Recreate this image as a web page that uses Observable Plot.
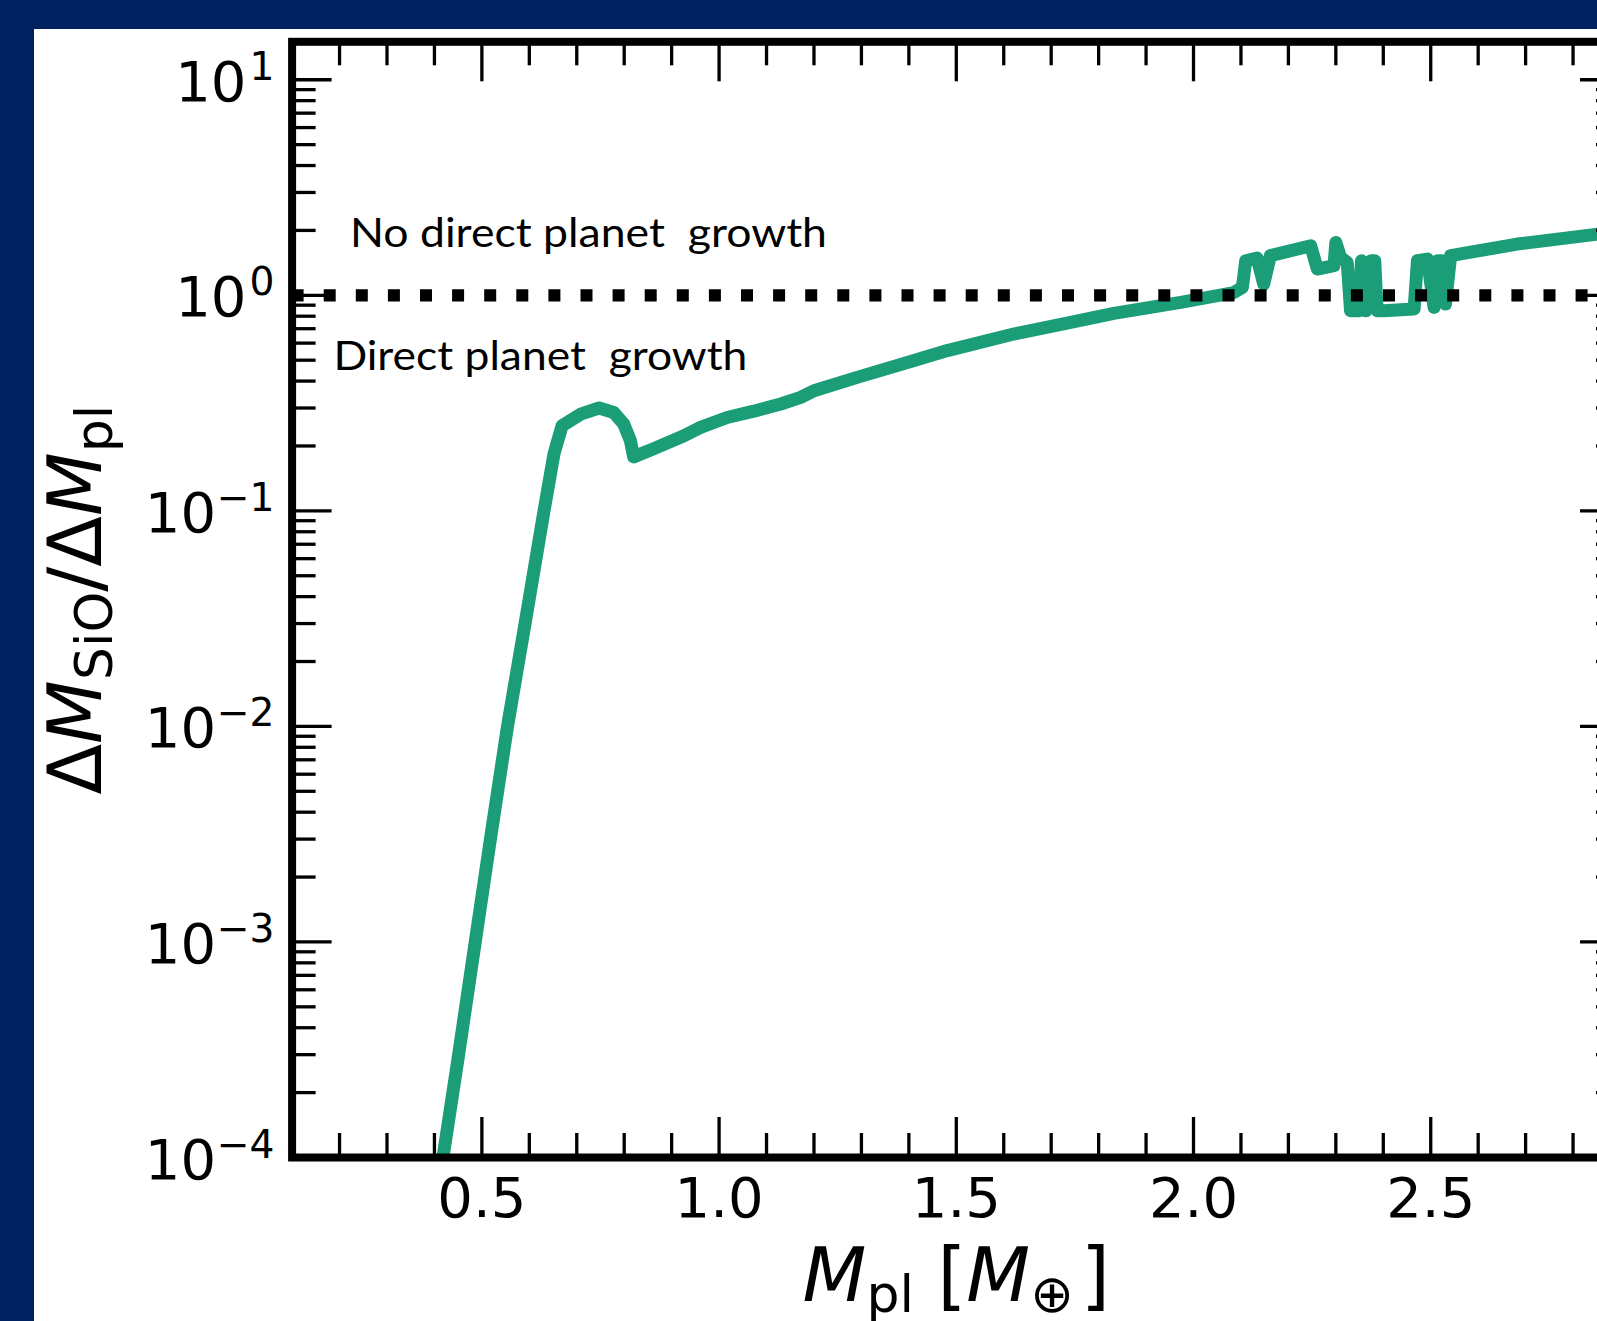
<!DOCTYPE html>
<html>
<head>
<meta charset="utf-8">
<script src="https://cdn.jsdelivr.net/npm/d3@7"></script>
<script src="https://cdn.jsdelivr.net/npm/@observablehq/plot@0.6"></script>
<style>
html, body { margin: 0; padding: 0; width: 1597px; height: 1321px; overflow: hidden; background: #002060; }
#panel { position: absolute; left: 34px; top: 29px; width: 1700px; height: 1400px; background: #ffffff; }
#chart { position: absolute; left: 0; top: 0; width: 1660px; height: 1321px; }
#chart svg { max-width: none !important; width: 1660px; height: 1321px; }
#chart svg text { white-space: pre; }
</style>
</head>
<body>
<div id="panel"></div>
<div id="chart"></div>
<script>
// ---- data ----
const massPl = [0.397, 0.418, 0.451, 0.486, 0.518, 0.554, 0.591, 0.631, 0.652, 0.669,
  0.708, 0.747, 0.778, 0.799, 0.813, 0.820, 0.862, 0.926, 0.961, 1.017, 1.073, 1.130, 1.172, 1.200, 1.291,
  1.411, 1.481, 1.621, 1.741, 1.832, 1.973, 2.085, 2.103, 2.110, 2.134, 2.148, 2.162, 2.247, 2.261, 2.296,
  2.300, 2.310, 2.324, 2.331, 2.349, 2.354, 2.363, 2.374, 2.382, 2.387, 2.401, 2.465, 2.472, 2.493, 2.507,
  2.514, 2.524, 2.531, 2.542, 2.682, 2.852, 2.900];
const ratio = [5.0e-5, 1.0e-4, 3.0e-4, 1.0e-3, 3.0e-3, 1.0e-2, 3.0e-2, 0.1, 0.184, 0.248,
  0.281, 0.300, 0.286, 0.253, 0.212, 0.178, 0.194, 0.223, 0.244, 0.271, 0.290, 0.313, 0.336, 0.361, 0.416,
  0.498, 0.554, 0.661, 0.748, 0.824, 0.927, 1.03, 1.088, 1.447, 1.489, 1.128, 1.527, 1.698, 1.324, 1.372,
  1.758, 1.499, 1.421, 0.848, 0.848, 1.447, 0.848, 1.447, 1.447, 0.848, 0.848, 0.864, 1.447, 1.472, 0.879,
  1.447, 1.447, 0.911, 1.527, 1.729, 1.923, 1.99];

const xMajorTicks = [0.5, 1.0, 1.5, 2.0, 2.5];
const xTickLabels = ["0.5", "1.0", "1.5", "2.0", "2.5"];
const xMinorTicks = [0.2, 0.3, 0.4, 0.6, 0.7, 0.8, 0.9, 1.1, 1.2, 1.3, 1.4, 1.6, 1.7, 1.8, 1.9,
  2.1, 2.2, 2.3, 2.4, 2.6, 2.7, 2.8];
const yMajorTicks = [1e-4, 1e-3, 1e-2, 1e-1, 1, 10];
const yTickExponents = ["−4", "−3", "−2", "−1", "0", "1"];
const yMinorTicks = [2e-4, 3e-4, 4e-4, 5e-4, 6e-4, 7e-4, 8e-4, 9e-4,
  2e-3, 3e-3, 4e-3, 5e-3, 6e-3, 7e-3, 8e-3, 9e-3,
  2e-2, 3e-2, 4e-2, 5e-2, 6e-2, 7e-2, 8e-2, 9e-2,
  0.2, 0.3, 0.4, 0.5, 0.6, 0.7, 0.8, 0.9,
  2, 3, 4, 5, 6, 7, 8, 9];
const thresholdValue = [1];
const annotationLabels = ["No direct planet  growth", "Direct planet  growth"];
const annotationX = [0.222, 0.187];
const annotationY = [1.68, 0.450];
const annotationWidths = [477, 414];
const xLabel = "Mpl [M⊕]";
const yLabel = "ΔMSiO/ΔMpl";

// ---- layout ----
const W = 1660, H = 1321, ML = 291.6, MR = 40, MT = 41.3, MB = 164;
const plotW = W - ML - MR, plotH = H - MT - MB;
const majorLen = 40, minorLen = 24, tickW = 3.3;

const curve = massPl.map((x, i) => ({x, y: ratio[i]}));
const posTicks = yMajorTicks.filter(v => v >= 1);
const negTicks = yMajorTicks.filter(v => v < 1);

const chart = Plot.plot({
  width: W, height: H,
  marginLeft: ML, marginRight: MR, marginTop: MT, marginBottom: MB,
  style: {background: "transparent", fontFamily: "DejaVu Sans", color: "black", overflow: "visible", maxWidth: "none"},
  x: {domain: [0.1, 2.9], axis: null},
  y: {type: "log", domain: [1e-4, 15], axis: null},
  marks: [
    Plot.line(curve, {x: "x", y: "y", stroke: "#1b9e77", strokeWidth: 13, strokeLinejoin: "round", clip: true}),
    Plot.ruleY(thresholdValue, {stroke: "black", strokeWidth: 12.3, strokeDasharray: "12,20.1"}),
    // bottom ticks
    Plot.tickX(xMajorTicks, {x: d => d, insetTop: plotH - majorLen, strokeWidth: tickW}),
    Plot.tickX(xMinorTicks, {x: d => d, insetTop: plotH - minorLen, strokeWidth: tickW}),
    // top ticks
    Plot.tickX(xMajorTicks, {x: d => d, insetBottom: plotH - majorLen, strokeWidth: tickW}),
    Plot.tickX(xMinorTicks, {x: d => d, insetBottom: plotH - minorLen, strokeWidth: tickW}),
    // left ticks
    Plot.tickY(yMajorTicks, {y: d => d, insetRight: plotW - majorLen, strokeWidth: tickW}),
    Plot.tickY(yMinorTicks, {y: d => d, insetRight: plotW - minorLen, strokeWidth: tickW}),
    // right ticks
    Plot.tickY(yMajorTicks, {y: d => d, insetLeft: plotW - majorLen, strokeWidth: tickW}),
    Plot.tickY(yMinorTicks, {y: d => d, insetLeft: plotW - minorLen, strokeWidth: tickW}),
    Plot.frame({stroke: "black", strokeWidth: 8}),
    // x tick labels
    Plot.text(xMajorTicks, {x: d => d, text: (d, i) => xTickLabels[i], frameAnchor: "bottom",
      lineAnchor: "bottom", dy: 59, fontSize: 56, fill: "black"}),
    // y tick labels: mantissa + exponent
    Plot.text(posTicks, {y: d => d, text: () => "10", frameAnchor: "left", textAnchor: "end",
      lineAnchor: "bottom", dx: -45.6, dy: 21, fontSize: 56, fill: "black"}),
    Plot.text(negTicks, {y: d => d, text: () => "10", frameAnchor: "left", textAnchor: "end",
      lineAnchor: "bottom", dx: -76, dy: 21, fontSize: 56, fill: "black"}),
    Plot.text(yMajorTicks, {y: d => d, text: (d, i) => yTickExponents[i], frameAnchor: "left", textAnchor: "end",
      lineAnchor: "bottom", dx: -17.6, dy: 0, fontSize: 39.2, fill: "black"}),
    // axis labels
    Plot.text([xLabel], {text: d => d, frameAnchor: "bottom", textAnchor: "middle", lineAnchor: "bottom",
      dy: 143, fontSize: 74, fill: "black"}),
    Plot.text([yLabel], {text: d => d, frameAnchor: "left", rotate: -90, textAnchor: "middle", lineAnchor: "bottom",
      dx: 100 - ML, fontSize: 74, fill: "black"}),
    // annotations
    Plot.text(annotationLabels, {x: (d, i) => annotationX[i], y: (d, i) => annotationY[i], text: d => d,
      textAnchor: "start", lineAnchor: "bottom", fontFamily: "Lato", fontSize: 41, fill: "black"})
  ]
});
chart.style.maxWidth = "none";
document.getElementById("chart").appendChild(chart);

// annotation widths matched to the reference
d3.select(chart).selectAll("text").each(function () {
  const k = annotationLabels.indexOf(this.textContent);
  if (k >= 0) {
    this.setAttribute("textLength", annotationWidths[k]);
    this.setAttribute("lengthAdjust", "spacingAndGlyphs");
  }
});

// ---- math-style axis labels (italic symbols, subscripts) ----
function rich(textContent, parts) {
  d3.select(chart).selectAll("text").filter(function () { return this.textContent === textContent; })
    .each(function () {
      const t = d3.select(this);
      t.text(null);
      let shift = 0;
      for (const p of parts) {
        const s = t.append("tspan").text(p.t);
        const target = p.sub ? 11.5 : 0;
        if (target !== shift) { s.attr("dy", target - shift); shift = target; }
        if (p.it) s.attr("font-style", "italic");
        if (p.sub) s.attr("font-size", 52);
      }
    });
}
rich(xLabel, [{t: "M", it: true}, {t: "pl", sub: true}, {t: " ["}, {t: "M", it: true}, {t: "⊕", sub: true}, {t: "\u200A]"}]);
rich(yLabel, [{t: "Δ"}, {t: "M", it: true}, {t: "SiO", sub: true}, {t: "/Δ"}, {t: "M", it: true}, {t: "pl", sub: true}]);
</script>
</body>
</html>
